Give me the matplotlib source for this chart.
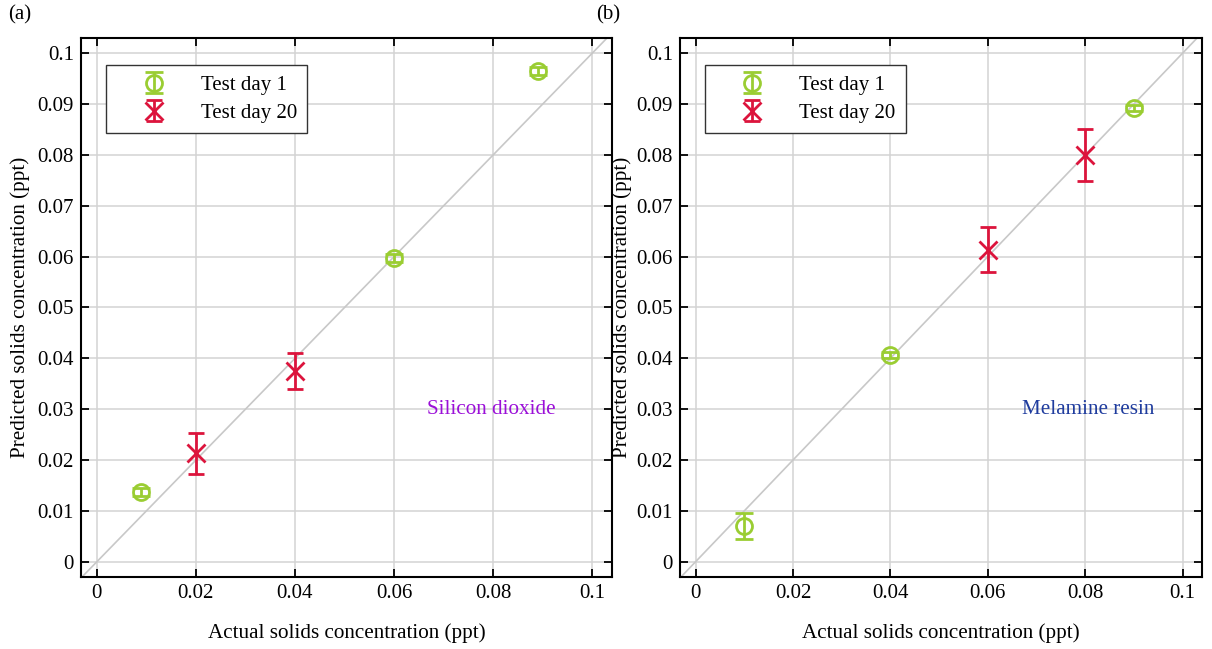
import matplotlib

matplotlib.use("Agg")
import matplotlib.pyplot as plt

plt.rcParams["font.family"] = ["Liberation Serif", "DejaVu Serif"]

# ── Data ─────────────────────────────────────────────────────────────────────

# (a) Silicon dioxide
a_day1_x = [0.009, 0.060, 0.089]
a_day1_y = [0.0138, 0.0597, 0.0965]
a_day1_err = [0.0008, 0.0008, 0.0008]
a_day20_x = [0.020, 0.040]
a_day20_y = [0.0213, 0.0375]
a_day20_err = [0.0041, 0.0035]

# (b) Melamine resin
b_day1_x = [0.010, 0.040, 0.090]
b_day1_y = [0.0070, 0.0407, 0.0892]
b_day1_err = [0.0025, 0.0006, 0.0006]
b_day20_x = [0.060, 0.080]
b_day20_y = [0.0614, 0.0800]
b_day20_err = [0.0045, 0.0051]

ticks = [0, 0.02, 0.04, 0.06, 0.08, 0.1]
tick_labels = ["0", "0.02", "0.04", "0.06", "0.08", "0.1"]
yticks = [0, 0.01, 0.02, 0.03, 0.04, 0.05, 0.06, 0.07, 0.08, 0.09, 0.1]
ytick_labels = ["0", "0.01", "0.02", "0.03", "0.04", "0.05", "0.06",
                "0.07", "0.08", "0.09", "0.1"]

GREEN = "#9ACD32"
RED = "#DC143C"
PURPLE = "#9B10D8"
BLUE = "#1F3C9E"


def draw_panel(ax, d1, d20, material, mat_color, mat_x, ylab_x):
    ax.plot([-0.005, 0.105], [-0.005, 0.105], color="#C8C8C8", lw=1.2, zorder=1)
    ax.errorbar(d1[0], d1[1], yerr=d1[2], fmt="o", color=GREEN, mfc="none",
                ms=11.5, mew=2, elinewidth=2, capsize=6.5, capthick=2,
                label="Test day 1", zorder=3)
    ax.errorbar(d20[0], d20[1], yerr=d20[2], fmt="x", color=RED,
                ms=13, mew=2, elinewidth=2, capsize=6, capthick=2,
                label="Test day 20", zorder=3)
    ax.set_xlim(-0.0032, 0.104)
    ax.set_ylim(-0.003, 0.103)
    ax.set_xticks(ticks)
    ax.set_xticklabels(tick_labels)
    ax.set_yticks(yticks)
    ax.set_yticklabels(ytick_labels)
    ax.grid(True, color="#D3D3D3", lw=1.1)
    ax.set_axisbelow(True)
    ax.tick_params(direction="in", top=True, right=True, length=6, width=1.3,
                   labelsize=15, pad=5)
    for s in ax.spines.values():
        s.set_linewidth(1.5)
    ax.set_xlabel("Actual solids concentration (ppt)", fontsize=15.2)
    ax.set_ylabel("Predicted solids concentration (ppt)", fontsize=15.2)
    ax.xaxis.set_label_coords(0.5, -0.085)
    ax.yaxis.set_label_coords(ylab_x, 0.5)
    ax.text(mat_x, 0.0299, material, color=mat_color, fontsize=15.2,
            ha="left", va="center")
    leg = ax.legend(loc="upper left", bbox_to_anchor=(0.047, 0.950),
                    borderaxespad=0, fontsize=15, fancybox=False,
                    edgecolor="#333333", framealpha=1, handletextpad=0.45,
                    borderpad=0.5, handlelength=3.6, labelspacing=0.4)
    leg.get_frame().set_linewidth(1.0)


fig = plt.figure(figsize=(12.12, 6.49), dpi=100)
ax1 = fig.add_axes([81 / 1212, 1 - 577 / 649, 531 / 1212, 539 / 649])
ax2 = fig.add_axes([680 / 1212, 1 - 577 / 649, 522 / 1212, 539 / 649])

draw_panel(ax1, (a_day1_x, a_day1_y, a_day1_err),
           (a_day20_x, a_day20_y, a_day20_err), "Silicon dioxide", PURPLE,
           0.0667, -0.096)
draw_panel(ax2, (b_day1_x, b_day1_y, b_day1_err),
           (b_day20_x, b_day20_y, b_day20_err), "Melamine resin", BLUE,
           0.0671, -0.092)

fig.text(8 / 1212, 1 - 15 / 649, "(a)", fontsize=15, va="center")
fig.text(596 / 1212, 1 - 15 / 649, "(b)", fontsize=15, va="center")

fig.savefig("out.png", dpi=100, facecolor="white")
